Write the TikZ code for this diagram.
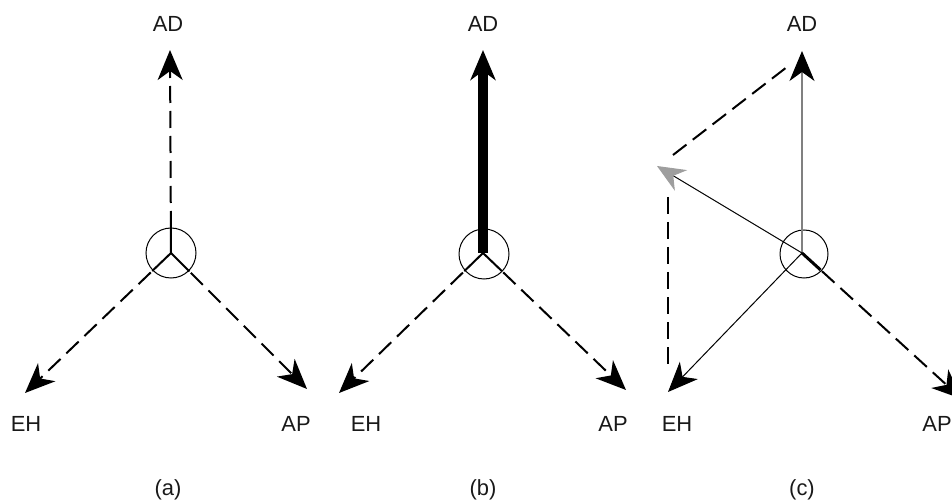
\documentclass[tikz,border=0pt]{standalone}
\usepackage{fontspec}
\setmainfont{Liberation Sans}
\usetikzlibrary{arrows.meta,calc}
\tikzset{
  hd/.tip={Stealth[length=30bp,width=25bp,inset=9bp]},
  vec/.style={line width=2bp,-hd},
  dsh/.style={dash pattern=on 17bp off 8bp},
  lbl/.style={font=\fontsize{22}{26}\selectfont,text=black!90,inner sep=0pt},
  ring/.style={line width=1bp},
  arm/.style={line width=2bp},
}
\begin{document}
\begin{tikzpicture}[x=1bp,y=-1bp]
\useasboundingbox (0,0) rectangle (952,504);
% ---------- panel (a) ----------
\coordinate (ca) at (171,253);
\coordinate (adA) at (170,50);
\coordinate (ehA) at (25,393);
\coordinate (apA) at (307,389);
\draw[ring] (ca) circle (25);
\draw[arm] (ca) -- ($(ca)!25bp!(adA)$);
\draw[arm] (ca) -- ($(ca)!26bp!(ehA)$);
\draw[arm] (ca) -- ($(ca)!26bp!(apA)$);
\draw[vec,dsh] ($(ca)!25bp!(adA)$) -- (adA);
\draw[vec,dsh] ($(ca)!28bp!(ehA)$) -- (ehA);
\draw[vec,dsh] ($(ca)!28bp!(apA)$) -- (apA);
\node[lbl] (ADa) at (168,24) {AD};
\node[lbl] (EHa) at (26,424) {EH};
\node[lbl] (APa) at (296,424) {AP};
\node[lbl] (la) at (168,490) {(a)};
% ---------- panel (b) ----------
\coordinate (cb) at (483,253);
\coordinate (adB) at (483,50);
\coordinate (ehB) at (339,393);
\coordinate (apB) at (626,390);
\draw[ring] (484,254) circle (25);
\draw[line width=10bp,-hd] (cb) -- (adB);
\draw[arm] (cb) -- ($(cb)!26bp!(ehB)$);
\draw[arm] (cb) -- ($(cb)!26bp!(apB)$);
\draw[vec,dsh] ($(cb)!28bp!(ehB)$) -- (ehB);
\draw[vec,dsh] ($(cb)!28bp!(apB)$) -- (apB);
\node[lbl] (ADb) at (483,24) {AD};
\node[lbl] (EHb) at (366,424) {EH};
\node[lbl] (APb) at (613,424) {AP};
\node[lbl] (lb) at (483,490) {(b)};
% ---------- panel (c) ----------
\coordinate (cc) at (802,253);
\coordinate (adC) at (802,51);
\coordinate (ehC) at (668,392);
\coordinate (apC) at (962,399);
\coordinate (rsC) at (657,166);
\coordinate (d1s) at (673,155);
\coordinate (d1e) at (787,67);
\coordinate (d2s) at (668,197);
\coordinate (d2e) at (668,372);
\draw[ring] (804,254) circle (24);
\draw[line width=1.2bp,draw=black!50,-{Stealth[length=30bp,width=25bp,inset=9bp,color=black]}] (cc) -- (adC);
\draw[line width=1bp,-hd] (cc) -- (ehC);
\draw[line width=1bp,-{Stealth[length=28bp,width=24bp,inset=9bp,color=black!38]}] (cc) -- (rsC);
\draw[line width=3bp] (cc) -- ($(cc)!25bp!(apC)$);
\draw[vec,dsh] ($(cc)!27bp!(apC)$) -- (apC);
\draw[arm,dsh] (d1s) -- (d1e);
\draw[arm,dsh] (d2s) -- (d2e);
\node[lbl] (ADc) at (802,24) {AD};
\node[lbl] (EHc) at (677,424) {EH};
\node[lbl] (APc) at (937,424) {AP};
\node[lbl] (lc) at (802,490) {(c)};
\end{tikzpicture}
\end{document}
